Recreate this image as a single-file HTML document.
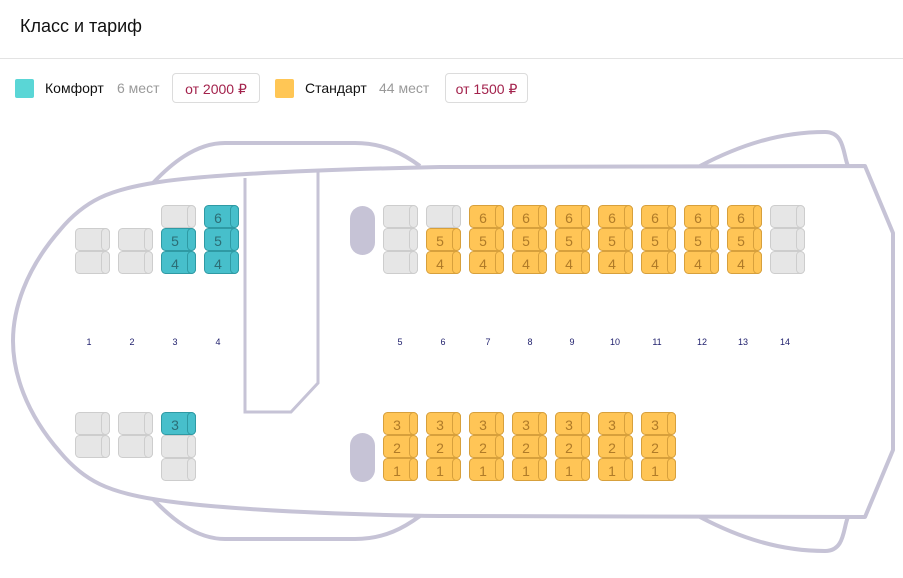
<!DOCTYPE html>
<html><head><meta charset="utf-8"><style>
body{margin:0;width:903px;height:578px;background:#fff;font-family:"Liberation Sans",sans-serif;position:relative;overflow:hidden}
.h{position:absolute;left:20px;top:16px;font-size:18px;font-weight:500;color:#111}
.hr{position:absolute;left:0;top:58px;width:903px;height:1px;background:#e3e3e3}
.sq{position:absolute;top:79px;width:19px;height:19px;border-radius:2px}
.t{position:absolute;top:80px;font-size:14px;color:#111}
.g{color:#9a9a9a}
.box{position:absolute;top:73px;height:30px;border:1px solid #dcdcdc;border-radius:4px;font-size:14px;color:#a3224c;line-height:30px;text-align:center;box-sizing:border-box}
svg{position:absolute;left:0;top:0}
</style></head><body>
<div class="h">Класс и тариф</div>
<div class="hr"></div>
<div class="sq" style="left:15px;background:#5ad6d6"></div>
<div class="t" style="left:45px">Комфорт</div>
<div class="t g" style="left:117px">6 мест</div>
<div class="box" style="left:172px;width:88px">от 2000 ₽</div>
<div class="sq" style="left:275px;background:#ffc655"></div>
<div class="t" style="left:305px">Стандарт</div>
<div class="t g" style="left:379px">44 мест</div>
<div class="box" style="left:445px;width:83px">от 1500 ₽</div>
<svg width="903" height="578" viewBox="0 0 903 578">
<defs>
<g id="gs"><rect x="0.5" y="0.5" width="34" height="22" rx="4" fill="#e6e6e6" stroke="#cdcdcd"/><rect x="26.5" y="0.5" width="8" height="22" rx="4" fill="#e6e6e6" stroke="#cdcdcd"/></g>
<g id="ts"><rect x="0.5" y="0.5" width="34" height="22" rx="4" fill="#47bfcb" stroke="#2f9aa4"/><rect x="26.5" y="0.5" width="8" height="22" rx="4" fill="#47bfcb" stroke="#2f9aa4"/></g>
<g id="ys"><rect x="0.5" y="0.5" width="34" height="22" rx="4" fill="#ffc556" stroke="#d7a03c"/><rect x="26.5" y="0.5" width="8" height="22" rx="4" fill="#ffc556" stroke="#d7a03c"/></g>
</defs>
<g fill="none" stroke="#c6c3d6" stroke-width="4" stroke-linejoin="round">
<path d="M153,183 C170,165 195,143 225,143 L355,143 C385,143 405,155 420,166"/>
<path d="M153,499 C170,517 195,539 225,539 L355,539 C385,539 405,527 420,516"/>
<path d="M700,166 C740,145 780,132 825,132 C845,132 843,155 848,166"/>
<path d="M700,517 C740,538 780,551 825,551 C845,551 843,528 848,517"/>
<path d="M865,166 L440,167 C300,170 200,175 153,183 C110,190 85,200 60,230 C25,270 13,310 13,341 C13,372 25,412 60,452 C85,482 110,492 153,499 C200,507 300,514 440,516 L865,517 L893,450 L893,233 Z"/>
</g>
<path d="M245,178 L245,412 L291,412 L318,383 L318,170" fill="none" stroke="#c6c3d6" stroke-width="3"/>
<rect x="350" y="206" width="25" height="49" rx="12.5" fill="#c6c3d6"/>
<rect x="350" y="433" width="25" height="49" rx="12.5" fill="#c6c3d6"/>
<!-- seats -->
<use href="#gs" x="75" y="228"/><use href="#gs" x="75" y="251"/>
<use href="#gs" x="118" y="228"/><use href="#gs" x="118" y="251"/>
<use href="#gs" x="161" y="205"/><use href="#ts" x="161" y="228"/><use href="#ts" x="161" y="251"/>
<use href="#ts" x="204" y="205"/><use href="#ts" x="204" y="228"/><use href="#ts" x="204" y="251"/>
<use href="#gs" x="75" y="412"/><use href="#gs" x="75" y="435"/>
<use href="#gs" x="118" y="412"/><use href="#gs" x="118" y="435"/>
<use href="#ts" x="161" y="412"/><use href="#gs" x="161" y="435"/><use href="#gs" x="161" y="458"/>
<use href="#gs" x="383" y="205"/><use href="#gs" x="383" y="228"/><use href="#gs" x="383" y="251"/>
<use href="#gs" x="426" y="205"/><use href="#ys" x="426" y="228"/><use href="#ys" x="426" y="251"/>
<g>
<use href="#ys" x="469" y="205"/><use href="#ys" x="469" y="228"/><use href="#ys" x="469" y="251"/>
<use href="#ys" x="512" y="205"/><use href="#ys" x="512" y="228"/><use href="#ys" x="512" y="251"/>
<use href="#ys" x="555" y="205"/><use href="#ys" x="555" y="228"/><use href="#ys" x="555" y="251"/>
<use href="#ys" x="598" y="205"/><use href="#ys" x="598" y="228"/><use href="#ys" x="598" y="251"/>
<use href="#ys" x="641" y="205"/><use href="#ys" x="641" y="228"/><use href="#ys" x="641" y="251"/>
<use href="#ys" x="684" y="205"/><use href="#ys" x="684" y="228"/><use href="#ys" x="684" y="251"/>
<use href="#ys" x="727" y="205"/><use href="#ys" x="727" y="228"/><use href="#ys" x="727" y="251"/>
</g>
<use href="#gs" x="770" y="205"/><use href="#gs" x="770" y="228"/><use href="#gs" x="770" y="251"/>
<g>
<use href="#ys" x="383" y="412"/><use href="#ys" x="383" y="435"/><use href="#ys" x="383" y="458"/>
<use href="#ys" x="426" y="412"/><use href="#ys" x="426" y="435"/><use href="#ys" x="426" y="458"/>
<use href="#ys" x="469" y="412"/><use href="#ys" x="469" y="435"/><use href="#ys" x="469" y="458"/>
<use href="#ys" x="512" y="412"/><use href="#ys" x="512" y="435"/><use href="#ys" x="512" y="458"/>
<use href="#ys" x="555" y="412"/><use href="#ys" x="555" y="435"/><use href="#ys" x="555" y="458"/>
<use href="#ys" x="598" y="412"/><use href="#ys" x="598" y="435"/><use href="#ys" x="598" y="458"/>
<use href="#ys" x="641" y="412"/><use href="#ys" x="641" y="435"/><use href="#ys" x="641" y="458"/>
</g>
<g font-family="Liberation Sans, sans-serif" font-size="14" text-anchor="middle">
<g fill="#2c6e76">
<text x="175" y="246">5</text><text x="175" y="269">4</text>
<text x="218" y="223">6</text><text x="218" y="246">5</text><text x="218" y="269">4</text>
<text x="175" y="430">3</text>
</g>
<g fill="#b07b28">
<text x="440" y="246">5</text><text x="440" y="269">4</text>
<text x="483" y="223">6</text><text x="483" y="246">5</text><text x="483" y="269">4</text>
<text x="526" y="223">6</text><text x="526" y="246">5</text><text x="526" y="269">4</text>
<text x="569" y="223">6</text><text x="569" y="246">5</text><text x="569" y="269">4</text>
<text x="612" y="223">6</text><text x="612" y="246">5</text><text x="612" y="269">4</text>
<text x="655" y="223">6</text><text x="655" y="246">5</text><text x="655" y="269">4</text>
<text x="698" y="223">6</text><text x="698" y="246">5</text><text x="698" y="269">4</text>
<text x="741" y="223">6</text><text x="741" y="246">5</text><text x="741" y="269">4</text>
<text x="397" y="430">3</text><text x="397" y="453">2</text><text x="397" y="476">1</text>
<text x="440" y="430">3</text><text x="440" y="453">2</text><text x="440" y="476">1</text>
<text x="483" y="430">3</text><text x="483" y="453">2</text><text x="483" y="476">1</text>
<text x="526" y="430">3</text><text x="526" y="453">2</text><text x="526" y="476">1</text>
<text x="569" y="430">3</text><text x="569" y="453">2</text><text x="569" y="476">1</text>
<text x="612" y="430">3</text><text x="612" y="453">2</text><text x="612" y="476">1</text>
<text x="655" y="430">3</text><text x="655" y="453">2</text><text x="655" y="476">1</text>
</g>
</g>
<g font-family="Liberation Sans, sans-serif" font-size="9" fill="#22226e" text-anchor="middle">
<text x="89" y="345">1</text><text x="132" y="345">2</text><text x="175" y="345">3</text><text x="218" y="345">4</text>
<text x="400" y="345">5</text><text x="443" y="345">6</text><text x="488" y="345">7</text><text x="530" y="345">8</text>
<text x="572" y="345">9</text><text x="615" y="345">10</text><text x="657" y="345">11</text><text x="702" y="345">12</text>
<text x="743" y="345">13</text><text x="785" y="345">14</text>
</g>
</svg>
</body></html>
